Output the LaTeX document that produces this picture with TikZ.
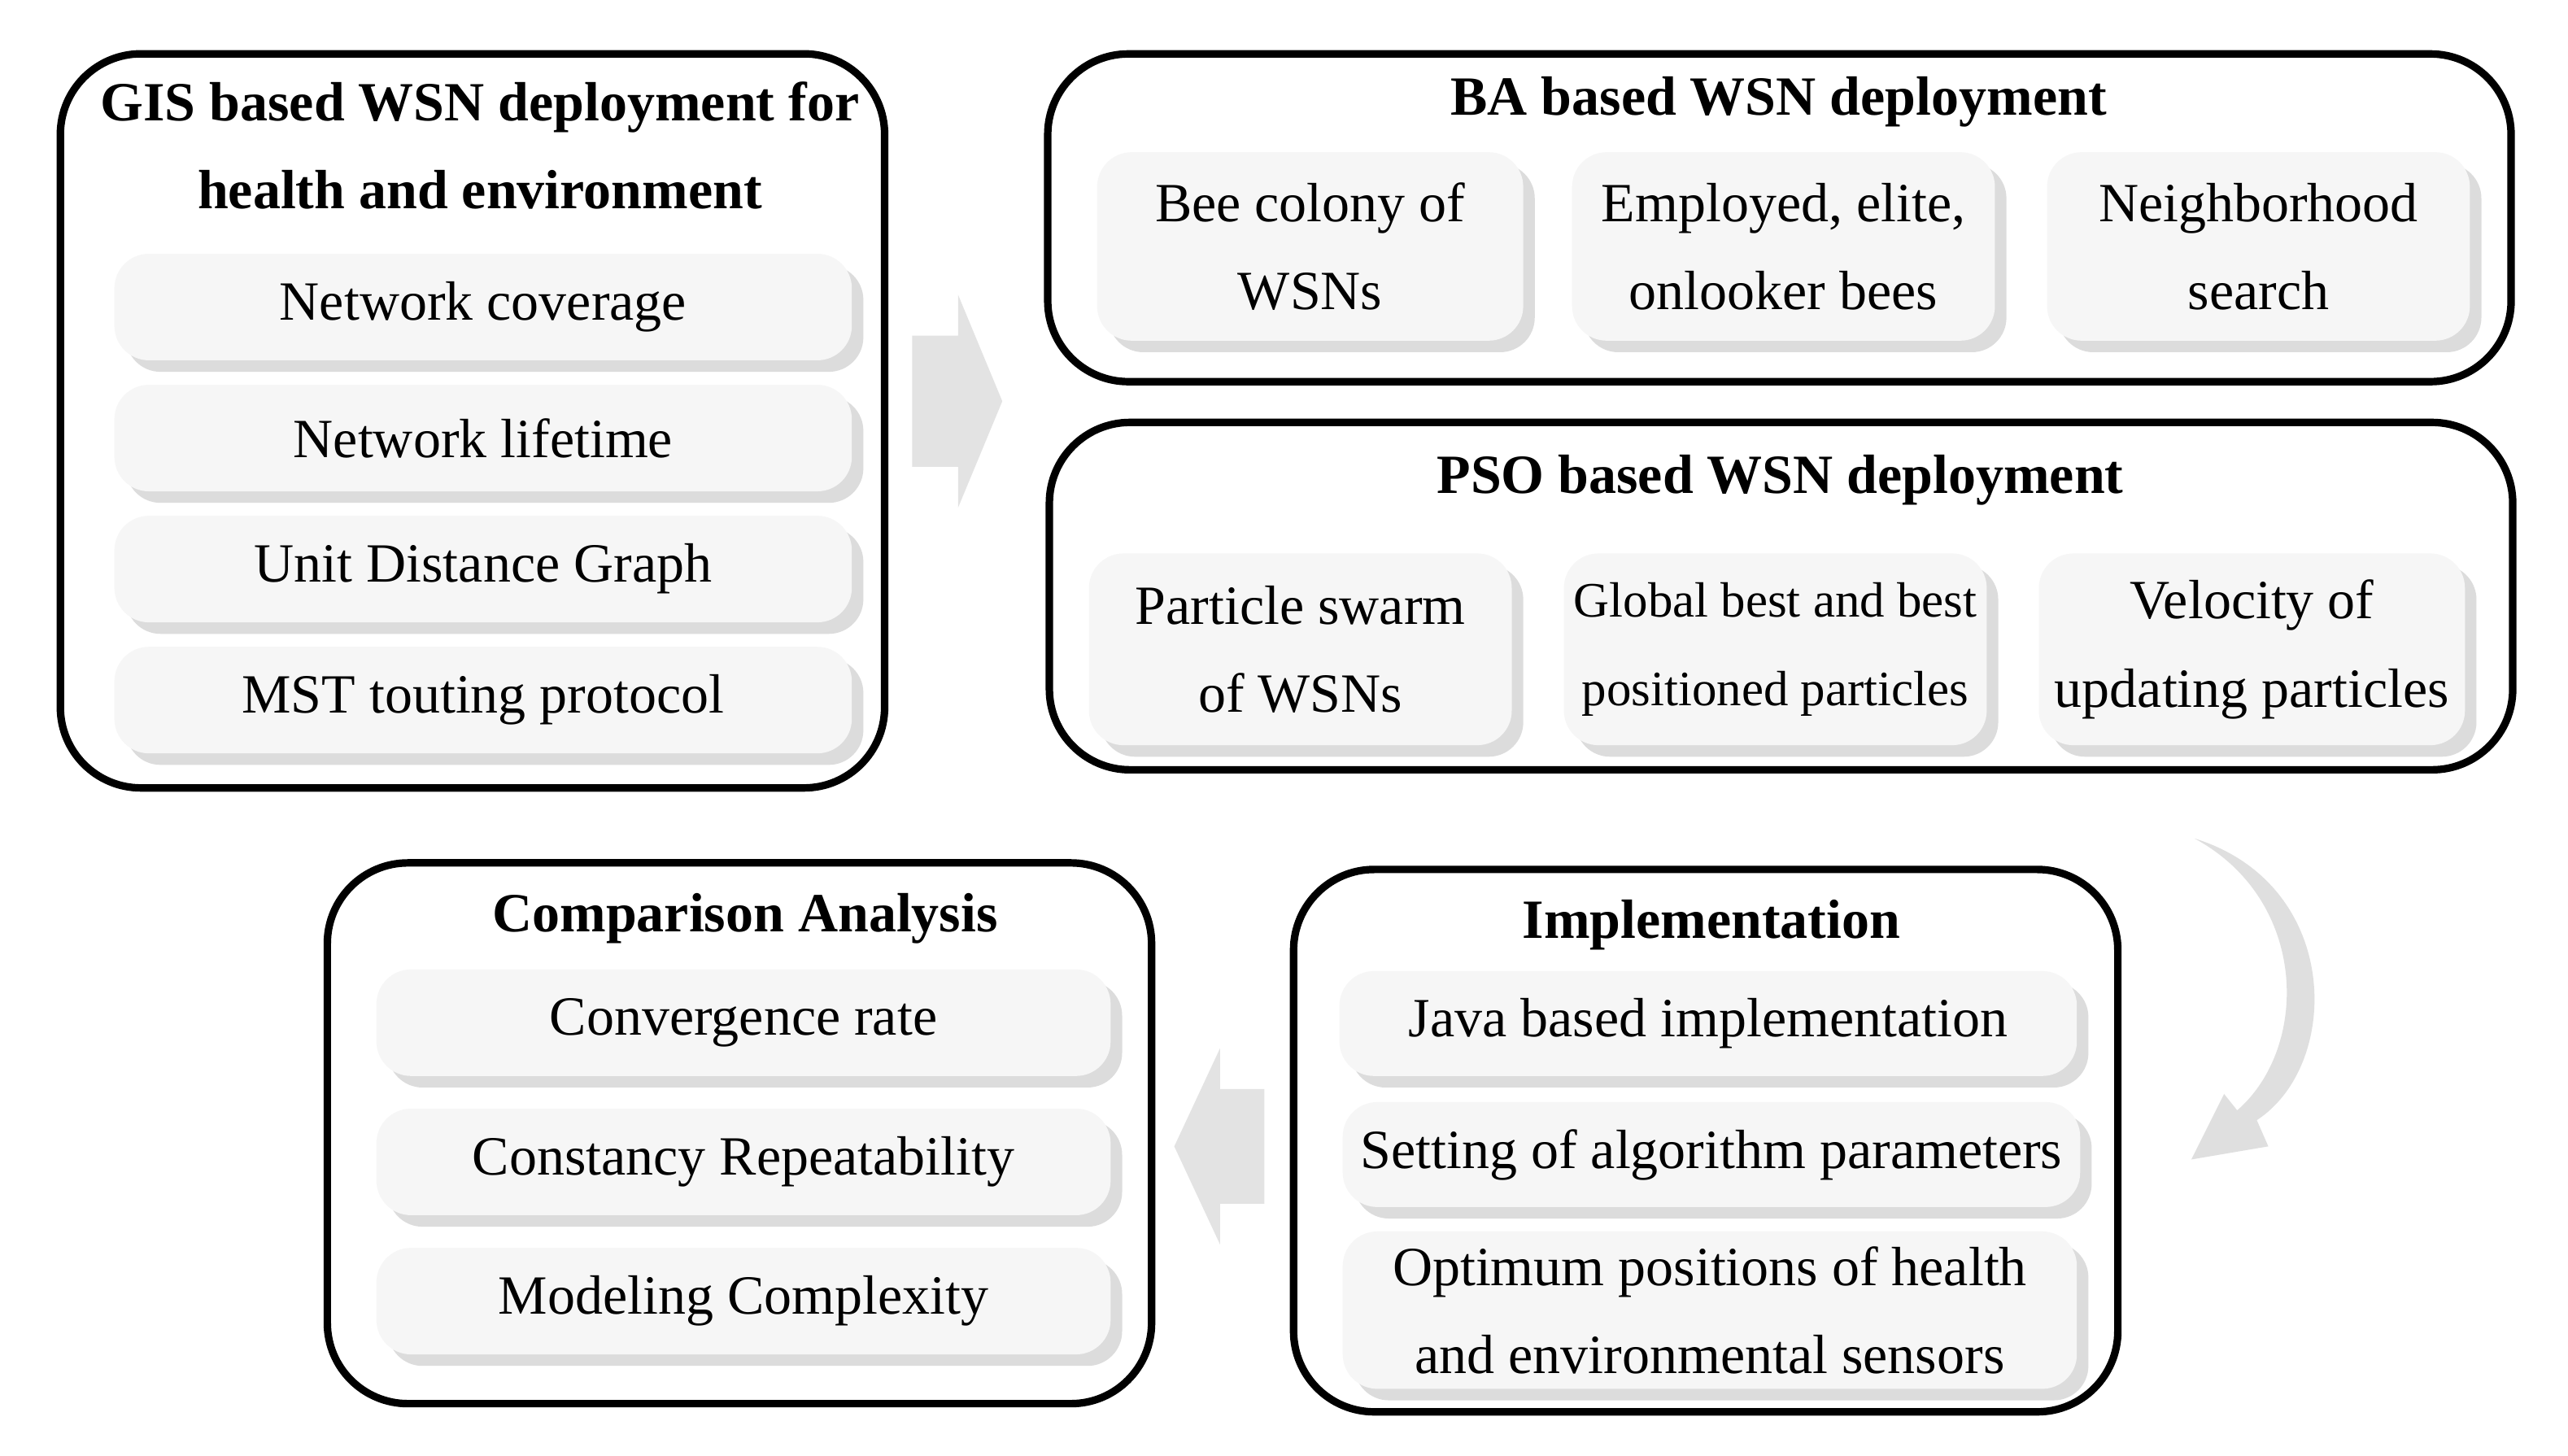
\documentclass[tikz,border=0pt]{standalone}
\usepackage{fontspec}
\setmainfont{Liberation Serif}
\usetikzlibrary{shadows,shapes.arrows,arrows.meta}
\begin{document}
\begin{tikzpicture}[x=0.01cm,y=-0.01cm,
  outer/.style={draw=black,line width=1.3pt,rounded corners=14pt,fill=white,inner sep=0pt},
  ibox/.style={fill=gray!7,rounded corners=6pt,inner sep=1pt,align=center,
     font=\fontsize{9.6}{15.3}\selectfont,
     drop shadow={shadow xshift=2pt,shadow yshift=-2pt,fill=gray!45,opacity=0.6}},
  ttl/.style={font=\fontsize{9.6}{15.3}\selectfont\bfseries,align=center},
  barrow/.style={fill=gray!22,draw=none}]
\useasboundingbox[fill=white] (0,0) rectangle (1568,889);
% GIS
\node[outer,minimum width=5.03cm,minimum height=4.48cm] (gis) at (288.5,257) {};
\node[ttl] (gist) at (293,89) {GIS based WSN deployment for\\health and environment};
\node[ibox,minimum width=4.5cm,minimum height=0.65cm] (g1) at (295,187.5) {Network coverage};
\node[ibox,minimum width=4.5cm,minimum height=0.65cm] (g2) at (295,267.5) {Network lifetime};
\node[ibox,minimum width=4.5cm,minimum height=0.65cm] (g3) at (295,347.5) {Unit Distance Graph};
\node[ibox,minimum width=4.5cm,minimum height=0.65cm] (g4) at (295,427.5) {MST touting protocol};
% arrow right
\fill[barrow] (557,205) -- (585,205) -- (585,180) -- (612,245) -- (585,310) -- (585,285) -- (557,285) -- cycle;
% BA
\node[outer,minimum width=8.93cm,minimum height=2.0cm] (ba) at (1086.5,133) {};
\node[ttl] (bat) at (1086,62) {BA based WSN deployment};
\node[ibox,minimum width=2.6cm,minimum height=1.15cm] (b1) at (800,150.5) {Bee colony of\\WSNs};
\node[ibox,minimum width=2.58cm,minimum height=1.15cm] (b2) at (1089,150.5) {Employed, elite,\\onlooker bees};
\node[ibox,minimum width=2.58cm,minimum height=1.15cm] (b3) at (1379,150.5) {Neighborhood\\search};
% PSO
\node[outer,minimum width=8.93cm,minimum height=2.12cm] (pso) at (1087.5,364) {};
\node[ttl] (psot) at (1087,293) {PSO based WSN deployment};
\node[ibox,minimum width=2.58cm,minimum height=1.17cm] (p1) at (794,396.5) {Particle swarm\\of WSNs};
\node[ibox,minimum width=2.58cm,minimum height=1.17cm,font=\fontsize{8.6}{15.3}\selectfont] (p2) at (1084,396.5) {Global best and best\\positioned particles};
\node[ibox,minimum width=2.6cm,minimum height=1.17cm] (p3) at (1375,396.5) {Velocity of\\updating particles};
% curved arrow
\coordinate (c1) at (1340,512);
\coordinate (c2) at (1338,708);
\fill[gray!25] (1340,512) .. controls (1430,540) and (1430,650) .. (1378,684)
  -- (1385,700) -- (1338,708) -- (1358,668) -- (1366,678)
  .. controls (1410,640) and (1410,550) .. cycle;
% Implementation
\node[outer,minimum width=5.03cm,minimum height=3.31cm] (imp) at (1041.5,696.5) {};
\node[ttl] (impt) at (1045,565) {Implementation};
\node[ibox,minimum width=4.5cm,minimum height=0.64cm] (i1) at (1043,625) {Java based implementation};
\node[ibox,minimum width=4.5cm,minimum height=0.64cm] (i2) at (1045,705) {Setting of algorithm parameters};
\node[ibox,minimum width=4.48cm,minimum height=0.96cm] (i3) at (1044,800) {Optimum positions of health\\and environmental sensors};
% arrow left
\fill[barrow] (772,665) -- (745,665) -- (745,640) -- (717,700) -- (745,760) -- (745,735) -- (772,735) -- cycle;
% Comparison
\node[outer,minimum width=5.03cm,minimum height=3.3cm] (cmp) at (451.5,692) {};
\node[ttl] (cmpt) at (455,561) {Comparison Analysis};
\node[ibox,minimum width=4.48cm,minimum height=0.65cm] (k1) at (454,624.5) {Convergence rate};
\node[ibox,minimum width=4.48cm,minimum height=0.65cm] (k2) at (454,709.5) {Constancy Repeatability};
\node[ibox,minimum width=4.48cm,minimum height=0.65cm] (k3) at (454,794.5) {Modeling Complexity};
\end{tikzpicture}
\end{document}
